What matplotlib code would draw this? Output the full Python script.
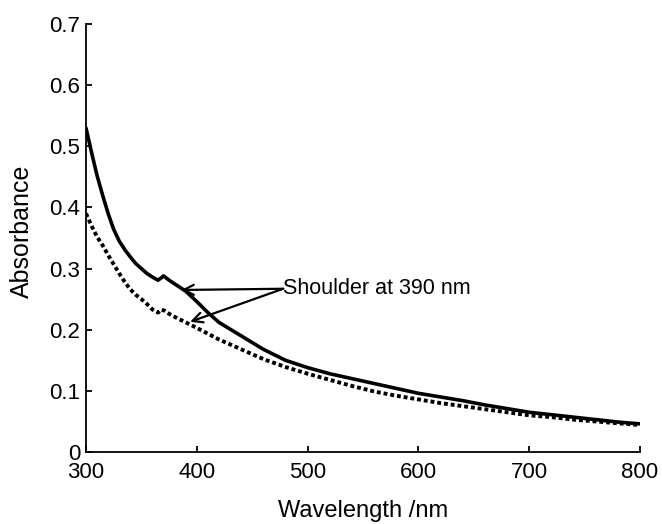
import matplotlib
matplotlib.use("Agg")
import matplotlib.pyplot as plt

plt.rcParams['font.family'] = ['Liberation Sans', 'DejaVu Sans']

# Solid curve
wl_solid = [300, 305, 310, 315, 320, 325, 330, 335, 340, 345, 350, 355, 360, 365, 368,
            370, 375, 380, 390, 400, 410, 420, 440, 460, 480, 500, 520, 540, 560, 580,
            600, 620, 640, 660, 680, 700, 720, 740, 760, 780, 800]
abs_solid = [0.530, 0.490, 0.452, 0.420, 0.390, 0.364, 0.345, 0.331, 0.319, 0.308, 0.300,
             0.292, 0.286, 0.281, 0.285, 0.288, 0.281, 0.275, 0.263, 0.246, 0.228, 0.212,
             0.190, 0.168, 0.150, 0.138, 0.128, 0.120, 0.112, 0.104, 0.096, 0.090, 0.084,
             0.077, 0.071, 0.065, 0.061, 0.057, 0.053, 0.049, 0.046]

# Dashed curve
wl_dash = [300, 305, 310, 315, 320, 325, 330, 335, 340, 345, 350, 355, 360, 365, 368,
           371, 375, 380, 390, 400, 420, 440, 460, 480, 500, 520, 540, 560, 580, 600,
           620, 640, 660, 680, 700, 720, 740, 760, 780, 800]
abs_dash = [0.390, 0.370, 0.352, 0.338, 0.322, 0.307, 0.292, 0.278, 0.266, 0.257, 0.250,
            0.242, 0.233, 0.228, 0.233, 0.231, 0.226, 0.221, 0.212, 0.203, 0.184, 0.168,
            0.152, 0.139, 0.128, 0.118, 0.108, 0.099, 0.092, 0.086, 0.080, 0.075, 0.070,
            0.065, 0.060, 0.057, 0.053, 0.050, 0.047, 0.044]

x_ticks = [300, 400, 500, 600, 700, 800]
y_ticks = [0, 0.1, 0.2, 0.3, 0.4, 0.5, 0.6, 0.7]
y_tick_labels = ['0', '0.1', '0.2', '0.3', '0.4', '0.5', '0.6', '0.7']

annot_text = "Shoulder at 390 nm"
annot_xy = (478, 0.267)
arrow_tips = [(386, 0.265), (394, 0.213)]

fig = plt.figure(figsize=(6.62, 5.24), dpi=100)
ax = fig.add_axes([0.1299, 0.1374, 0.8369, 0.8168])

ax.plot(wl_solid, abs_solid, color='black', lw=2.6, solid_joinstyle='round',
        solid_capstyle='round')
ax.plot(wl_dash, abs_dash, color='black', lw=2.8, linestyle=(0, (1.0, 0.75)))

ax.set_xlim(300, 800)
ax.set_ylim(0, 0.7)
ax.set_xticks(x_ticks)
ax.set_yticks(y_ticks)
ax.set_yticklabels(y_tick_labels)

for s in ['top', 'right']:
    ax.spines[s].set_visible(False)
for s in ['left', 'bottom']:
    ax.spines[s].set_linewidth(1.3)

ax.tick_params(direction='in', length=4, width=1.3, labelsize=16)
ax.tick_params(axis='x', pad=7)
ax.tick_params(axis='y', pad=4)

ax.set_xlabel('Wavelength /nm', fontsize=17)
ax.set_ylabel('Absorbance', fontsize=18)
ax.xaxis.set_label_coords(0.5, (452 - 500) / 428, transform=ax.transAxes)
ax.xaxis.label.set_va('top')
ax.yaxis.set_label_coords((34 - 86) / 554, (452 - 231) / 428, transform=ax.transAxes)

for tip in arrow_tips:
    ax.annotate('', xy=tip, xytext=annot_xy,
                arrowprops=dict(arrowstyle='->', color='black', lw=1.6,
                                shrinkA=0, shrinkB=0, mutation_scale=18))
ax.text(annot_xy[0], annot_xy[1], annot_text, fontsize=15.5, ha='left', va='center')

fig.savefig('out.png', dpi=100)
